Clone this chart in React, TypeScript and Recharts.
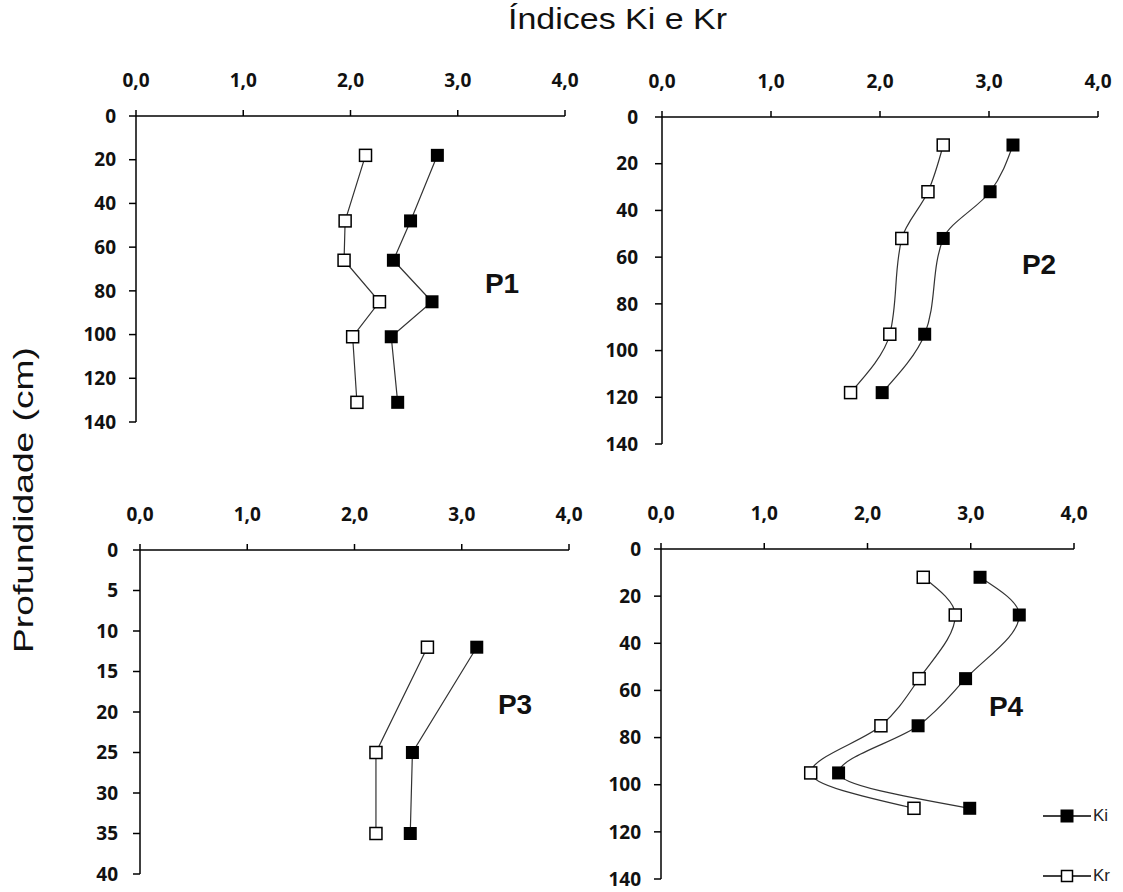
import React from 'react';
import { LineChart, Line, XAxis, YAxis, Legend } from 'recharts';

// eixo x comum (índices Ki / Kr)
const xTicks = [0, 1, 2, 3, 4];
const depthTicks140 = [0, 20, 40, 60, 80, 100, 120, 140];
const depthTicks40 = [0, 5, 10, 15, 20, 25, 30, 35, 40];

// P1
const p1Depth = [18, 48, 66, 85, 101, 131];
const p1Ki = [2.81, 2.56, 2.4, 2.76, 2.38, 2.44];
const p1Kr = [2.14, 1.95, 1.94, 2.27, 2.02, 2.06];

// P2
const p2Depth = [12, 32, 52, 93, 118];
const p2Ki = [3.22, 3.01, 2.58, 2.41, 2.02];
const p2Kr = [2.58, 2.44, 2.2, 2.09, 1.73];

// P3
const p3Depth = [12, 25, 35];
const p3Ki = [3.14, 2.54, 2.52];
const p3Kr = [2.68, 2.2, 2.2];

// P4
const p4Depth = [12, 28, 55, 75, 95, 110];
const p4Ki = [3.09, 3.47, 2.95, 2.49, 1.72, 2.99];
const p4Kr = [2.54, 2.85, 2.5, 2.13, 1.45, 2.45];

const Y_W = 70;
const X_H = 60;
const LINE = '#333';
const tickFont = { fill: '#111', fontSize: 19, fontWeight: 700, fontFamily: 'Open Sans' };
const axisStyle = { stroke: '#000', strokeWidth: 1.5 };

const toRows = (depth: number[], vals: number[]) =>
  depth.map((d, i) => ({ depth: d, value: vals[i] }));

const fmt = (v: number) => v.toFixed(1).replace('.', ',');

const filledDot = (p: any) => (
  <rect key={`ki-${p.index}`} x={p.cx - 6.5} y={p.cy - 6.5} width={13} height={13} fill="#000" />
);
const hollowDot = (p: any) => (
  <rect
    key={`kr-${p.index}`}
    x={p.cx - 6}
    y={p.cy - 6}
    width={12}
    height={12}
    fill="#fff"
    stroke="#000"
    strokeWidth={1.5}
  />
);

const LegendContent = ({ payload }: any) => (
  <div style={{ display: 'flex', flexDirection: 'column', gap: 42 }}>
    {(payload || []).map((item: any) => (
      <div key={item.value} style={{ display: 'flex', alignItems: 'center', height: 18 }}>
        <svg width={48} height={18}>
          <line x1={0} y1={9} x2={48} y2={9} stroke="#000" strokeWidth={1.5} />
          {item.value === 'Ki' ? (
            <rect x={17.5} y={2.5} width={13} height={13} fill="#000" />
          ) : (
            <rect x={18.5} y={3.5} width={11} height={11} fill="#fff" stroke="#000" strokeWidth={1.5} />
          )}
        </svg>
        <span style={{ fontFamily: 'Liberation Sans', fontSize: 17, color: '#222', marginLeft: 2 }}>
          {item.value}
        </span>
      </div>
    ))}
  </div>
);

interface PanelProps {
  depth: number[];
  ki: number[];
  kr: number[];
  yMax: number;
  yTicks: number[];
  left: number;
  top: number;
  w: number;
  h: number;
  yTickMargin: number;
  curve: 'linear' | 'monotone';
  legend?: boolean;
}

function Panel({ depth, ki, kr, yMax, yTicks, left, top, w, h, yTickMargin, curve, legend }: PanelProps) {
  const right = legend ? 60 : 25;
  return (
    <div style={{ position: 'absolute', left: left - Y_W, top: top - X_H }}>
      <LineChart
        layout="vertical"
        width={Y_W + w + right}
        height={X_H + h + 12}
        margin={{ top: 0, right, bottom: 12, left: 0 }}
      >
        <XAxis
          type="number"
          orientation="top"
          domain={[0, 4]}
          ticks={xTicks}
          interval={0}
          height={X_H}
          tickSize={6}
          tickMargin={23}
          tickFormatter={fmt}
          tick={tickFont}
          axisLine={axisStyle}
          tickLine={axisStyle}
        />
        <YAxis
          type="number"
          dataKey="depth"
          domain={[0, yMax]}
          ticks={yTicks}
          interval={0}
          width={Y_W}
          tickSize={7}
          tickMargin={yTickMargin}
          tick={tickFont}
          axisLine={axisStyle}
          tickLine={axisStyle}
        />
        <Line
          data={toRows(depth, ki)}
          dataKey="value"
          name="Ki"
          type={curve}
          stroke={LINE}
          strokeWidth={1.2}
          dot={filledDot}
          isAnimationActive={false}
        />
        <Line
          data={toRows(depth, kr)}
          dataKey="value"
          name="Kr"
          type={curve}
          stroke={LINE}
          strokeWidth={1.2}
          dot={hollowDot}
          isAnimationActive={false}
        />
        {legend && (
          <Legend
            layout="vertical"
            align="center"
            verticalAlign="middle"
            wrapperStyle={{ left: 382 + Y_W, top: 258 + X_H, width: 90 }}
            content={<LegendContent />}
          />
        )}
      </LineChart>
    </div>
  );
}

const panelLabel = (text: string, x: number, y: number) => (
  <div
    style={{
      position: 'absolute',
      left: x,
      top: y,
      transform: 'translate(-50%, -50%)',
      fontFamily: 'Liberation Sans',
      fontWeight: 700,
      fontSize: 28,
      lineHeight: 1,
      color: '#111',
    }}
  >
    {text}
  </div>
);

export default function App() {
  return (
    <div style={{ position: 'absolute', left: 0, top: 0, width: 1123, height: 892, background: '#fff' }}>
      <svg width={1123} height={892} style={{ position: 'absolute', left: 0, top: 0 }}>
        <text
          x={617.5}
          y={29}
          textAnchor="middle"
          fontFamily="Liberation Sans"
          fontSize={29}
          fill="#111"
          textLength={219}
          lengthAdjust="spacingAndGlyphs"
        >
          Índices Ki e Kr
        </text>
        <text
          transform="translate(33, 500) rotate(-90)"
          textAnchor="middle"
          fontFamily="Liberation Sans"
          fontSize={28}
          fill="#111"
          textLength={306}
          lengthAdjust="spacingAndGlyphs"
        >
          Profundidade (cm)
        </text>
      </svg>
      <Panel depth={p1Depth} ki={p1Ki} kr={p1Kr} yMax={140} yTicks={depthTicks140}
        left={136} top={116} w={429} h={306} yTickMargin={13} curve="linear" />
      <Panel depth={p2Depth} ki={p2Ki} kr={p2Kr} yMax={140} yTicks={depthTicks140}
        left={662} top={117} w={436} h={327} yTickMargin={17} curve="monotone" />
      <Panel depth={p3Depth} ki={p3Ki} kr={p3Kr} yMax={40} yTicks={depthTicks40}
        left={140} top={550} w={429} h={324} yTickMargin={15} curve="linear" />
      <Panel depth={p4Depth} ki={p4Ki} kr={p4Kr} yMax={140} yTicks={depthTicks140}
        left={661} top={549} w={413} h={330} yTickMargin={13} curve="monotone" legend />
      {panelLabel('P1', 502, 284)}
      {panelLabel('P2', 1039, 265)}
      {panelLabel('P3', 515, 705)}
      {panelLabel('P4', 1006, 707)}
    </div>
  );
}
